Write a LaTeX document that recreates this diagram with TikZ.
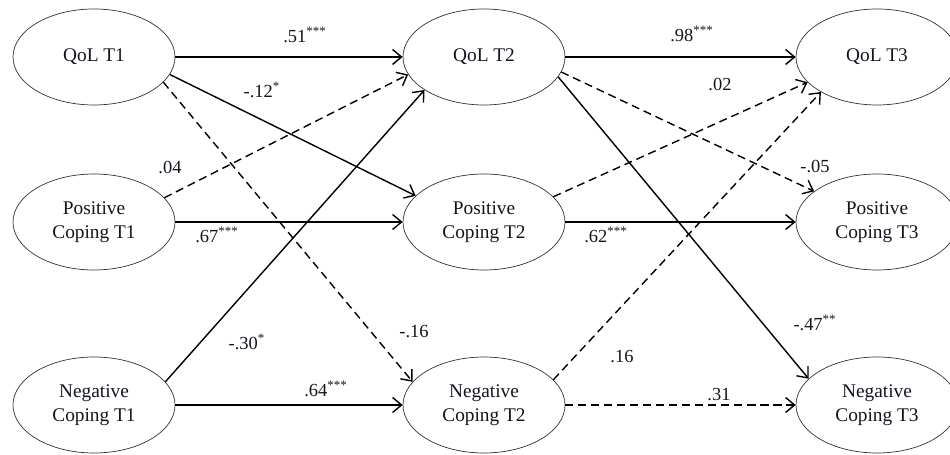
\documentclass[tikz,border=0pt]{standalone}
\usepackage{fontspec}
\setmainfont{Liberation Serif}
\usepackage{tikz}
\usetikzlibrary{arrows.meta, shapes.geometric}
\definecolor{ink}{RGB}{20,20,30}

\begin{document}
\begin{tikzpicture}[
    latent/.style={ellipse, draw=black!80, thin, minimum width=3.24cm,
      minimum height=1.92cm, inner sep=0pt, align=center,
      font=\fontsize{11}{14}\selectfont, text=ink},
    path/.style={-{Straight Barb[length=1.8mm, width=3mm]}, line width=0.8pt},
    ns/.style={path, dash pattern=on 4.6pt off 2.8pt},
    coef/.style={font=\fontsize{10.5}{12}\selectfont, text=ink, inner sep=1pt}]
  \useasboundingbox (0,0) rectangle (19,9.1);
  \foreach \i/\x in {1/1.88, 2/9.68, 3/17.54} {
    \node[latent] (q\i) at (\x,7.96) {QoL T\i};
    \node[latent] (p\i) at (\x,4.66) {Positive\\Coping T\i};
    \node[latent] (n\i) at (\x,1.0) {Negative\\Coping T\i};
  }
  % T1 -> T2
  \draw[path] (q1.east) -- (q2.west);
  \draw[path] (q1.-13) -- (p2.159);
  \draw[ns] (q1.-20) -- (n2.162);
  \draw[ns] (p1.19) -- (q2.193);
  \draw[path] (p1.east) -- (p2.west);
  \draw[path] (n1.18) -- (q2.209);
  \draw[path] (n1.east) -- (n2.west);
  % T2 -> T3
  \draw[path] (q2.east) -- (q3.west);
  \draw[ns] (q2.-11) -- (p3.154);
  \draw[path] (q2.-15) -- (n3.159);
  \draw[ns] (p2.20) -- (q3.200);
  \draw[path] (p2.east) -- (p3.west);
  \draw[ns] (n2.20) -- (q3.212);
  \draw[ns] (n2.east) -- (n3.west);
  % coefficients
  \node[coef] (c1) at (6.1,8.4) {.51\textsuperscript{***}};
  \node[coef] (c2) at (5.24,7.3) {-.12\textsuperscript{*}};
  \node[coef] (c3) at (3.4,5.74) {.04};
  \node[coef] (c4) at (4.34,4.4) {.67\textsuperscript{***}};
  \node[coef] (c5) at (4.94,2.26) {-.30\textsuperscript{*}};
  \node[coef] (c6) at (8.28,2.46) {-.16};
  \node[coef] (c7) at (6.52,1.32) {.64\textsuperscript{***}};
  \node[coef] (c8) at (13.84,8.42) {.98\textsuperscript{***}};
  \node[coef] (c9) at (14.4,7.4) {.02};
  \node[coef] (c10) at (16.3,5.76) {-.05};
  \node[coef] (c11) at (12.12,4.4) {.62\textsuperscript{***}};
  \node[coef] (c12) at (16.3,2.64) {-.47\textsuperscript{**}};
  \node[coef] (c13) at (12.44,1.96) {.16};
  \node[coef] (c14) at (14.38,1.2) {.31};
\end{tikzpicture}
\end{document}
